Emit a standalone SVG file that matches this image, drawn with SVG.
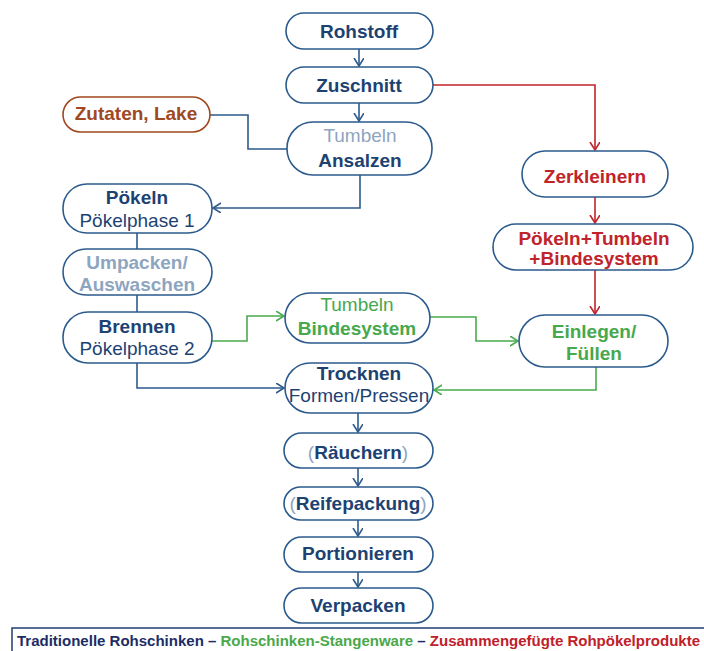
<svg xmlns="http://www.w3.org/2000/svg" width="704" height="651" viewBox="0 0 704 651">
<defs>
<style>
.n{fill:#fff;stroke:#2b5a8c;stroke-width:1.6}
.t{font-family:"Liberation Sans",Arial,sans-serif;font-size:19px;text-anchor:middle}
.b{font-weight:bold}
.nv{fill:#1d4272}
.lt{fill:#8ea5bf}
.rd{fill:#c0242b}
.gr{fill:#47a84d}
.br{fill:#a0481f}
.c{fill:none;stroke-width:1.6}
.cb{stroke:#2e5a8c}
.cr{stroke:#c0242b}
.cg{stroke:#48ab4e}
</style>
<marker id="ab" markerUnits="userSpaceOnUse" markerWidth="12" markerHeight="12" refX="8" refY="5" orient="auto"><path d="M0,0 L8,5 L0,10" fill="none" stroke="#2e5a8c" stroke-width="1.6"/></marker>
<marker id="ar" markerUnits="userSpaceOnUse" markerWidth="12" markerHeight="12" refX="8" refY="5" orient="auto"><path d="M0,0 L8,5 L0,10" fill="none" stroke="#c0242b" stroke-width="1.6"/></marker>
<marker id="ag" markerUnits="userSpaceOnUse" markerWidth="12" markerHeight="12" refX="8" refY="5" orient="auto"><path d="M0,0 L8,5 L0,10" fill="none" stroke="#48ab4e" stroke-width="1.6"/></marker>
</defs>
<rect width="704" height="651" fill="#fff"/>
<g id="connectors">
<path class="c cb" d="M359,49 V66" marker-end="url(#ab)"/>
<path class="c cb" d="M359,103 V121" marker-end="url(#ab)"/>
<path class="c cb" d="M210,115 H248 V149 H287"/>
<path class="c cb" d="M360,175 V208 H213" marker-end="url(#ab)"/>
<path class="c cb" d="M137,233 V249"/>
<path class="c cb" d="M137,295 V312"/>
<path class="c cb" d="M137,363 V388 H284" marker-end="url(#ab)"/>
<path class="c cg" d="M212,341 H247 V316 H284" marker-end="url(#ag)"/>
<path class="c cg" d="M430,317 H476 V341 H518" marker-end="url(#ag)"/>
<path class="c cg" d="M596,367 V390 H434" marker-end="url(#ag)"/>
<path class="c cr" d="M433,85 H595 V150" marker-end="url(#ar)"/>
<path class="c cr" d="M595,197 V223" marker-end="url(#ar)"/>
<path class="c cr" d="M595,270 V314" marker-end="url(#ar)"/>
<path class="c cb" d="M358,413 V432" marker-end="url(#ab)"/>
<path class="c cb" d="M358,468 V486" marker-end="url(#ab)"/>
<path class="c cb" d="M358,520 V536" marker-end="url(#ab)"/>
<path class="c cb" d="M358,572 V587" marker-end="url(#ab)"/>
</g>
<g id="rohstoff"><rect class="n" x="286" y="13" width="147" height="36" rx="18"/><text class="t b nv" x="359" y="38">Rohstoff</text></g>
<g id="zuschnitt"><rect class="n" x="286" y="67" width="147" height="36" rx="18"/><text class="t b nv" x="359" y="92">Zuschnitt</text></g>
<g id="ansalzen"><rect class="n" x="287" y="122" width="145" height="53" rx="26"/><text class="t lt" x="360" y="142">Tumbeln</text><text class="t b nv" x="360" y="167">Ansalzen</text></g>
<g id="zutaten"><rect class="n" x="63" y="97" width="147" height="35" rx="17.5" style="stroke:#a0481f"/><text class="t b br" x="136" y="120">Zutaten, Lake</text></g>
<g id="poekeln"><rect class="n" x="63" y="184" width="149" height="49" rx="24"/><text class="t b nv" x="137" y="204">Pökeln</text><text class="t nv" x="137" y="227">Pökelphase 1</text></g>
<g id="umpacken"><rect class="n" x="63" y="249" width="149" height="46" rx="23"/><text class="t b lt" x="137" y="269">Umpacken/</text><text class="t b lt" x="137" y="291">Auswaschen</text></g>
<g id="brennen"><rect class="n" x="63" y="312" width="149" height="51" rx="25"/><text class="t b nv" x="137" y="333">Brennen</text><text class="t nv" x="137" y="355">Pökelphase 2</text></g>
<g id="bindesystem"><rect class="n" x="285" y="293" width="145" height="50" rx="25"/><text class="t gr" x="357" y="311">Tumbeln</text><text class="t b gr" x="357" y="335">Bindesystem</text></g>
<g id="einlegen"><rect class="n" x="519" y="315" width="149" height="52" rx="26"/><text class="t b gr" x="594" y="338">Einlegen/</text><text class="t b gr" x="594" y="360">Füllen</text></g>
<g id="trocknen"><rect class="n" x="285" y="363" width="148" height="50" rx="25"/><text class="t b nv" x="359" y="380">Trocknen</text><text class="t nv" x="359" y="402" font-size="18">Formen/Pressen</text></g>
<g id="zerkleinern"><rect class="n" x="522" y="151" width="146" height="46" rx="23"/><text class="t b rd" x="595" y="183">Zerkleinern</text></g>
<g id="poekeln-tumbeln"><rect class="n" x="493" y="224" width="200" height="46" rx="23"/><text class="t b rd" x="594" y="245">Pökeln+Tumbeln</text><text class="t b rd" x="594" y="265">+Bindesystem</text></g>
<g id="raeuchern"><rect class="n" x="284" y="433" width="149" height="35" rx="17.5"/><text class="t b nv" x="358" y="459"><tspan class="lt" font-weight="normal">(</tspan>Räuchern<tspan class="lt" font-weight="normal">)</tspan></text></g>
<g id="reifepackung"><rect class="n" x="284" y="487" width="149" height="33" rx="16.5"/><text class="t b nv" x="358" y="510"><tspan class="lt" font-weight="normal">(</tspan>Reifepackung<tspan class="lt" font-weight="normal">)</tspan></text></g>
<g id="portionieren"><rect class="n" x="284" y="537" width="149" height="35" rx="17.5"/><text class="t b nv" x="358" y="560">Portionieren</text></g>
<g id="verpacken"><rect class="n" x="284" y="588" width="149" height="35" rx="17.5"/><text class="t b nv" x="358" y="612">Verpacken</text></g>
<g id="legend">
<path d="M12,651 V628 H704" fill="none" stroke="#1f3f72" stroke-width="1.5"/>
<text x="17" y="646" font-family="'Liberation Sans',Arial,sans-serif" font-size="14" font-weight="bold" textLength="683" lengthAdjust="spacingAndGlyphs"><tspan fill="#1c2d66">Traditionelle Rohschinken – </tspan><tspan fill="#4aa84a">Rohschinken-Stangenware</tspan><tspan fill="#1c2d66"> – </tspan><tspan fill="#c0202a">Zusammengefügte Rohpökelprodukte</tspan></text>
</g>
</svg>
